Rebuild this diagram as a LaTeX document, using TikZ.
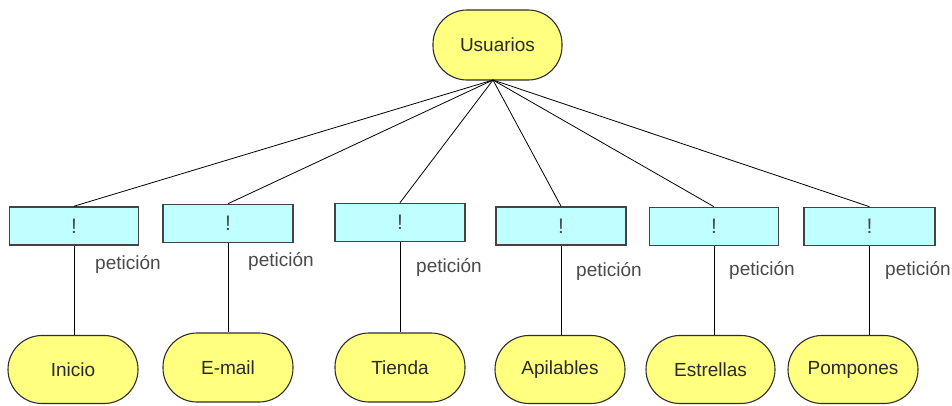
\documentclass[tikz,border=0pt]{standalone}
\usepackage{fontspec}
\setmainfont{Liberation Sans}
\definecolor{pill}{HTML}{FFFF80}
\definecolor{req}{HTML}{C0FFFF}
\definecolor{edge}{HTML}{2E2E2E}
\definecolor{ink}{HTML}{2A2A2A}
\begin{document}
\begin{tikzpicture}[x=1pt,y=-1pt,
  pillnode/.style={draw=edge, line width=1.1pt, fill=pill, rounded corners=34pt,
    minimum width=130pt, minimum height=68pt, inner sep=0pt,
    font=\fontsize{19}{21}\selectfont, text=ink},
  reqbox/.style={draw=edge!90, line width=1.6pt, fill=req,
    minimum width=129pt, minimum height=38pt, inner sep=0pt,
    font=\fontsize{21}{23}\selectfont, text=ink!85},
  tag/.style={anchor=west, inner sep=0pt, font=\fontsize{19}{21}\selectfont, text=ink!85},
  link/.style={draw=black, line width=0.8pt}]
\useasboundingbox (0,0) rectangle (952,405);

% root
\node[pillnode, minimum width=129pt, minimum height=70pt] (u) at (497.5,45) {Usuarios};
\coordinate (hub) at (493,80);

% request boxes
\node[reqbox] (b1) at (74,226) {!};
\node[reqbox, minimum width=130pt] (b2) at (228,223.5) {!};
\node[reqbox, minimum width=130pt] (b3) at (400,222.5) {!};
\node[reqbox, minimum width=130pt] (b4) at (561,226) {!};
\node[reqbox] (b5) at (714,226.5) {!};
\node[reqbox, minimum width=131pt] (b6) at (869.5,226.5) {!};

% pages
\node[pillnode] (p1) at (73,369.5) {Inicio};
\node[pillnode, minimum height=69pt] (p2) at (228,367.5) {E-mail};
\node[pillnode, minimum height=69pt] (p3) at (400,367.5) {Tienda};
\node[pillnode] (p4) at (560,369.5) {Apilables};
\node[pillnode, minimum width=129pt] (p5) at (710.5,369.5) {Estrellas};
\node[pillnode] (p6) at (853,369.5) {Pompones};

% links from the root
\foreach \b in {b1,b2,b3,b4,b5,b6}
  \draw[link] (hub) -- (\b.north);

% links from requests to pages
\foreach \i in {1,...,6}
  \draw[link] (b\i.south) -- (b\i.south |- p\i.north);

% labels
\node[tag] (t1) at (95,264) {petición};
\node[tag] (t2) at (248,261) {petición};
\node[tag] (t3) at (416,267) {petición};
\node[tag] (t4) at (576,271) {petición};
\node[tag] (t5) at (729,270) {petición};
\node[tag] (t6) at (885,270) {petición};
\end{tikzpicture}
\end{document}
